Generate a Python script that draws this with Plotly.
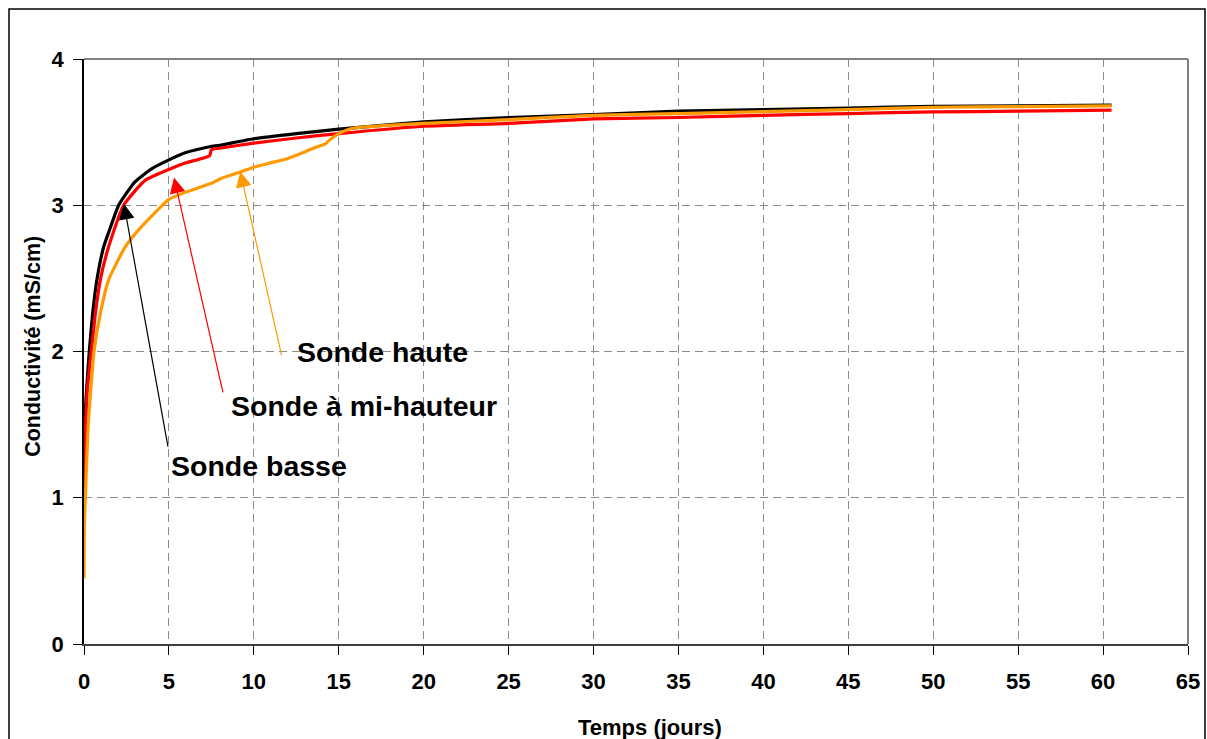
import plotly.graph_objects as go

# ---- data ----
t_basse = [0, 0.03, 0.12, 0.31, 0.51, 0.76, 1.16, 1.5, 2.04, 3, 4, 5, 6, 7.4, 8, 10, 12.5, 15, 20, 25, 30, 35, 40, 45, 50, 55, 60.5]
c_basse = [1.3, 1.45, 1.68, 2.0, 2.26, 2.49, 2.716, 2.83, 3.0, 3.16, 3.25, 3.31, 3.36, 3.40, 3.41, 3.455, 3.49, 3.52, 3.57, 3.60, 3.62, 3.643, 3.654, 3.665, 3.677, 3.68, 3.685]

t_mi = [0, 0.02, 0.08, 0.2, 0.43, 0.67, 0.96, 1.45, 2.33, 3.6, 5, 6, 7.4, 7.5, 8, 10, 12.5, 15, 20, 25, 30, 35, 40, 45, 50, 55, 60.5]
c_mi = [0.9, 1.15, 1.45, 1.75, 2.0, 2.26, 2.49, 2.716, 3.0, 3.17, 3.245, 3.29, 3.34, 3.38, 3.39, 3.425, 3.46, 3.49, 3.54, 3.56, 3.59, 3.60, 3.615, 3.627, 3.638, 3.643, 3.65]

t_haute = [0, 0.02, 0.08, 0.25, 0.59, 0.96, 1.45, 2.43, 3.2, 4.1, 5, 6, 7.5, 8, 9, 10, 11, 12, 12.8, 13.5, 14.2, 14.6, 15, 15.6, 16, 20, 25, 30, 35, 40, 45, 50, 55, 60.5]
c_haute = [0.45, 0.8, 1.0, 1.5, 2.0, 2.26, 2.49, 2.716, 2.83, 2.94, 3.04, 3.09, 3.15, 3.18, 3.22, 3.26, 3.29, 3.32, 3.355, 3.39, 3.42, 3.46, 3.49, 3.52, 3.53, 3.56, 3.585, 3.615, 3.627, 3.64, 3.654, 3.67, 3.675, 3.68]

x_ticks = list(range(0, 66, 5))
y_ticks = [0, 1, 2, 3, 4]

# annotation labels: (text, text x, text y, arrow tail x, tail y, head x, head y, colour)
labels = [
    ("Sonde haute", 12.4, 1.995, 11.65, 1.965, 9.2, 3.23, "#FF9900"),
    ("Sonde à mi-hauteur", 8.55, 1.63, 8.2, 1.71, 5.3, 3.19, "#FF0000"),
    ("Sonde basse", 4.98, 1.215, 4.96, 1.34, 2.35, 3.01, "#000000"),
]

FONT = "Liberation Sans, Arial, sans-serif"

fig = go.Figure()
for t, c, col in [(t_basse, c_basse, "#000000"), (t_mi, c_mi, "#FF0000"), (t_haute, c_haute, "#FF9900")]:
    fig.add_trace(go.Scatter(x=t, y=c, mode="lines",
                             line=dict(color=col, width=3.2, shape="spline", smoothing=0.5),
                             showlegend=False, hoverinfo="skip"))

annotations = []
for text, tx, ty, ax, ay, hx, hy, col in labels:
    annotations.append(dict(x=hx, y=hy, ax=ax, ay=ay, xref="x", yref="y", axref="x", ayref="y",
                            text="", showarrow=True, arrowhead=2, arrowsize=2.6,
                            arrowwidth=1.2, arrowcolor=col))
    annotations.append(dict(x=tx, y=ty, xref="x", yref="y", text=text, showarrow=False,
                            xanchor="left", yanchor="middle",
                            font=dict(family=FONT, size=28.5, color="black", weight="bold")))

annotations.append(dict(x=(650 - 84) / 1104, y=-0.142, xref="paper", yref="paper",
                        text="Temps (jours)", showarrow=False, xanchor="center", yanchor="middle",
                        font=dict(family=FONT, size=22, color="black", weight="bold")))
annotations.append(dict(x=(33 - 84) / 1104, y=0.508, xref="paper", yref="paper",
                        text="Conductivité (mS/cm)", showarrow=False, textangle=-90,
                        xanchor="center", yanchor="middle",
                        font=dict(family=FONT, size=21.5, color="black", weight="bold")))

shapes = [
    # outer chart border
    dict(type="rect", xref="paper", yref="paper", x0=(9 - 84) / 1104, x1=(1205 - 84) / 1104,
         y0=-0.2, y1=(644 - 9) / 585, line=dict(color="black", width=1.5), layer="below"),
    # plot area top and right border
    dict(type="line", xref="paper", yref="paper", x0=0, x1=1, y0=1, y1=1,
         line=dict(color="#808080", width=2)),
    dict(type="line", xref="paper", yref="paper", x0=1, x1=1, y0=0, y1=1,
         line=dict(color="#808080", width=2)),
]

fig.update_layout(
    width=1207, height=739,
    margin=dict(l=84, r=19, t=59, b=95),
    paper_bgcolor="white", plot_bgcolor="white",
    annotations=annotations, shapes=shapes,
    font=dict(family=FONT, color="black"),
)
fig.update_xaxes(range=[0, 65], tickvals=x_ticks, ticks="outside", ticklen=9, tickcolor="black",
                 showgrid=True, gridcolor="#8C8C8C", griddash="8px,5px", gridwidth=1,
                 showline=True, linecolor="#404040", linewidth=2, zeroline=False,
                 automargin=False, ticklabelstandoff=8,
                 tickfont=dict(family=FONT, size=22, color="black", weight="bold"))
fig.update_yaxes(range=[0, 4], tickvals=y_ticks, ticks="outside", ticklen=9, tickcolor="black",
                 showgrid=True, gridcolor="#8C8C8C", griddash="8px,5px", gridwidth=1,
                 showline=True, linecolor="black", linewidth=1.5, zeroline=False,
                 automargin=False, ticklabelstandoff=5,
                 tickfont=dict(family=FONT, size=22, color="black", weight="bold"))

fig.write_html("out.html", config={"displayModeBar": False},
               post_script="document.body.style.margin='0';document.body.style.overflow='hidden';")
